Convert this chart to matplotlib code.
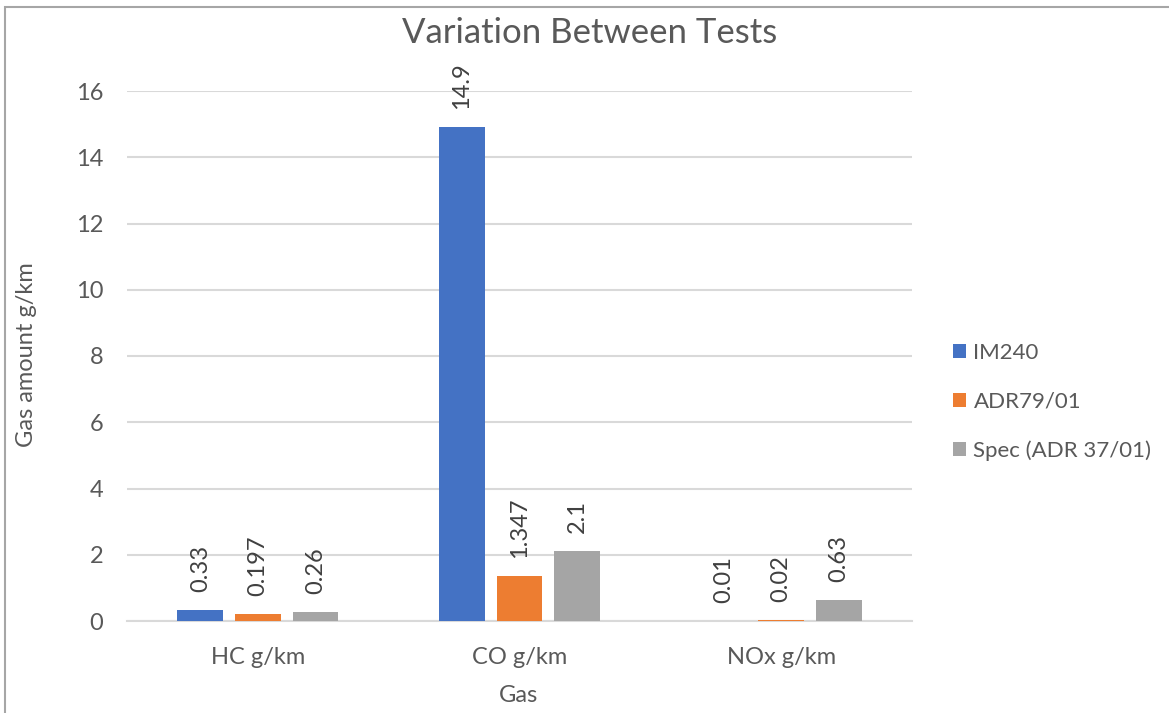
import matplotlib.pyplot as plt
import numpy as np
from matplotlib.patches import Rectangle

plt.rcParams['font.family'] = ['Lato', 'DejaVu Sans']

categories = ["HC g/km", "CO g/km", "NOx g/km"]
series = ["IM240", "ADR79/01", "Spec (ADR 37/01)"]
im240 = [0.33, 14.9, 0.01]
adr79 = [0.197, 1.347, 0.02]
spec = [0.26, 2.1, 0.63]
label_text = [["0.33", "14.9", "0.01"],
              ["0.197", "1.347", "0.02"],
              ["0.26", "2.1", "0.63"]]
colors = ["#4472C4", "#ED7D31", "#A5A5A5"]
text_col = "#595959"

W, H = 1169, 713
fig = plt.figure(figsize=(W/100, H/100), dpi=100)
ax = fig.add_axes([127/W, 1-621/H, (912-127)/W, (621-91)/H])

x = np.arange(len(categories))
width = 0.175
step = 0.22
for i, (vals, name) in enumerate(zip([im240, adr79, spec], series)):
    pos = x + (i-1)*step
    bars = ax.bar(pos, vals, width, color=colors[i], label=name, zorder=3)
    for b, v, t in zip(bars, vals, label_text[i]):
        ax.annotate(t, (b.get_x()+b.get_width()/2, v), xytext=(0, 13),
                    textcoords="offset points", rotation=90, ha="center",
                    va="bottom", fontsize=17, color="#404040")

ax.set_xlim(-0.5, 2.5)
ax.set_ylim(0, 16)
ax.set_yticks(range(0, 17, 2))
ax.set_xticks(x)
ax.set_xticklabels(categories)
ax.grid(axis="y", color="#D9D9D9", linewidth=1.5, zorder=0)
ax.tick_params(length=0, labelsize=17, colors=text_col)
ax.tick_params(axis="y", pad=17)
ax.tick_params(axis="x", pad=19)
for s in ["top", "right", "left"]:
    ax.spines[s].set_visible(False)
ax.spines["bottom"].set_color("#D9D9D9")
ax.spines["bottom"].set_linewidth(1.5)

# axis titles and chart title placed in figure pixels
fig.text(519/W, 1-695/H, "Gas", ha="center", va="center",
         fontsize=17, color=text_col)
fig.text(27/W, 1-355/H, "Gas amount g/km", ha="center", va="center",
         rotation=90, fontsize=17, color=text_col)
fig.text(590/W, 1-33/H, "Variation Between Tests", ha="center",
         va="center", fontsize=25, color=text_col)

ax.legend(loc="center left", bbox_to_anchor=(953/W, 1-402/H),
          bbox_transform=fig.transFigure, frameon=False, fontsize=16,
          labelcolor=text_col, handlelength=0.6, handleheight=0.6,
          handletextpad=0.32, labelspacing=1.3, borderpad=0,
          borderaxespad=0)

fig.patches.append(Rectangle((5/W, -0.1), 1.2, 1.1-7/H, fill=False,
                             edgecolor="#A6A6A6", linewidth=1.5,
                             transform=fig.transFigure))

fig.savefig("out.png", dpi=100, facecolor="white")
